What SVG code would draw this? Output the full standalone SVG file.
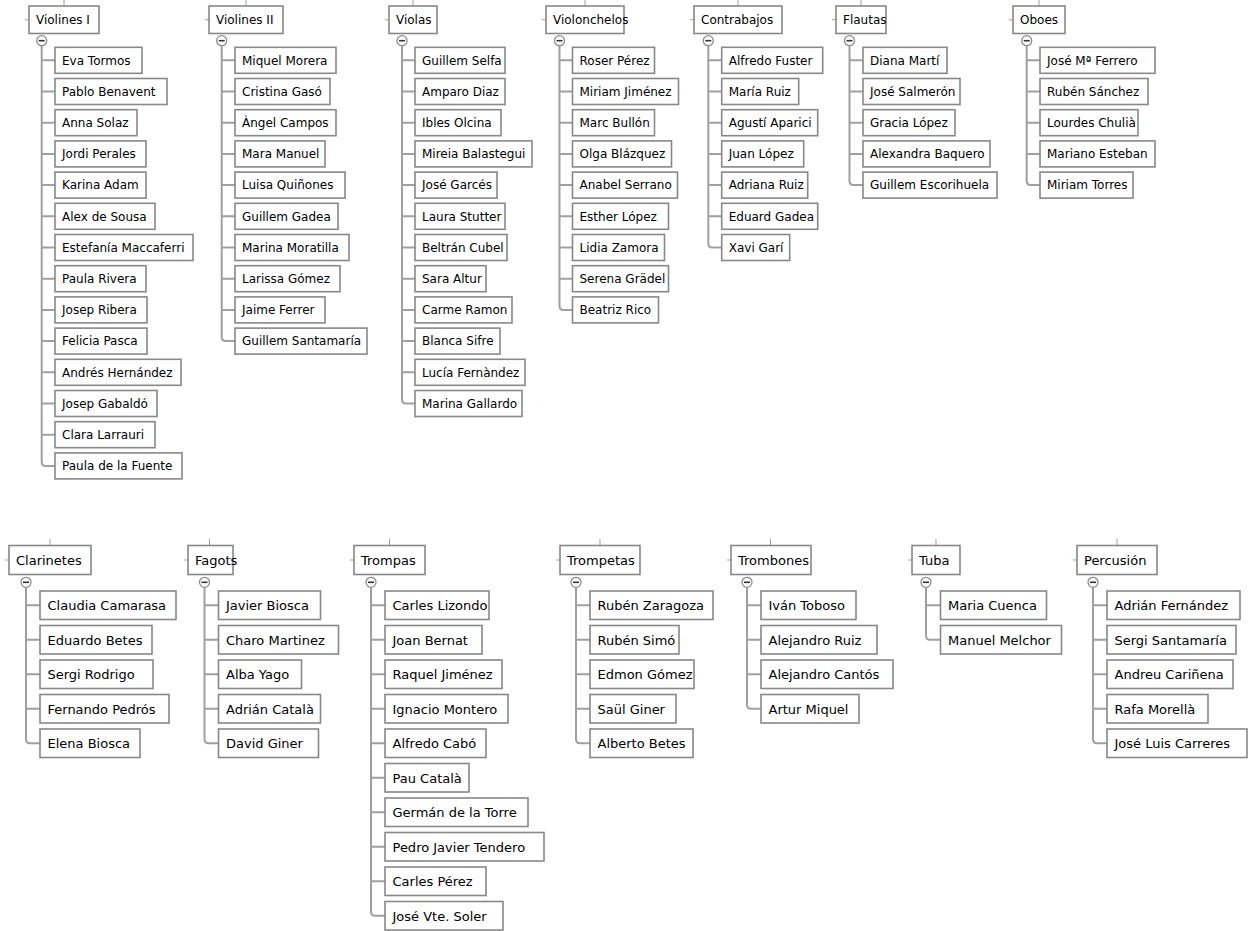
<svg xmlns="http://www.w3.org/2000/svg" width="1256" height="931" viewBox="0 0 1256 931">
<style>
.n rect{fill:#fff;stroke:#888;stroke-width:1.6}
.n text{font-family:"DejaVu Sans",Verdana,sans-serif;font-size:12px;fill:#000}
.b text{font-size:13px}
.c{fill:none;stroke:#a0a0a0;stroke-width:2}
.s{fill:none;stroke:#a0a0a0;stroke-width:1}
.tg circle{fill:#fff;stroke:#8c8c8c;stroke-width:1.3}
.tg line{stroke:#333;stroke-width:1.6}
</style>
<rect width="1256" height="931" fill="#fff"/>
<g id="connectors">
<path class="s" d="M64,0V6M25,19.75H29 M246,0V6M205,19.75H209 M413,0V6M385,19.75H389 M585,0V6M542,19.75H546 M738,0V6M690,19.75H694 M861,0V6M832,19.75H836 M1039,0V6M1009,19.75H1013 M50,539V545.5M5,560H9 M209.5,539V545.5M184,560H188 M389.5,539V545.5M350,560H354 M600,539V545.5M556,560H560 M770.5,539V545.5M727,560H731 M936,539V545.5M908,560H912 M1117,539V545.5M1073,560H1077"/>
<path class="c" d="M41.7,45.7V461.9Q41.7,465.9 45.7,465.9H55 M41.7,60.3H55M41.7,91.5H55M41.7,122.7H55M41.7,153.9H55M41.7,185.1H55M41.7,216.3H55M41.7,247.5H55M41.7,278.7H55M41.7,309.9H55M41.7,341.1H55M41.7,372.3H55M41.7,403.5H55M41.7,434.7H55"/>
<path class="c" d="M221.7,45.7V337.1Q221.7,341.1 225.7,341.1H235 M221.7,60.3H235M221.7,91.5H235M221.7,122.7H235M221.7,153.9H235M221.7,185.1H235M221.7,216.3H235M221.7,247.5H235M221.7,278.7H235M221.7,309.9H235"/>
<path class="c" d="M402,45.7V399.5Q402,403.5 406,403.5H415 M402,60.3H415M402,91.5H415M402,122.7H415M402,153.9H415M402,185.1H415M402,216.3H415M402,247.5H415M402,278.7H415M402,309.9H415M402,341.1H415M402,372.3H415"/>
<path class="c" d="M559.5,45.7V305.9Q559.5,309.9 563.5,309.9H572.5 M559.5,60.3H572.5M559.5,91.5H572.5M559.5,122.7H572.5M559.5,153.9H572.5M559.5,185.1H572.5M559.5,216.3H572.5M559.5,247.5H572.5M559.5,278.7H572.5"/>
<path class="c" d="M708.3,45.7V243.5Q708.3,247.5 712.3,247.5H721.7 M708.3,60.3H721.7M708.3,91.5H721.7M708.3,122.7H721.7M708.3,153.9H721.7M708.3,185.1H721.7M708.3,216.3H721.7"/>
<path class="c" d="M849.5,45.7V181.1Q849.5,185.1 853.5,185.1H863 M849.5,60.3H863M849.5,91.5H863M849.5,122.7H863M849.5,153.9H863"/>
<path class="c" d="M1026.7,45.7V181.1Q1026.7,185.1 1030.7,185.1H1040 M1026.7,60.3H1040M1026.7,91.5H1040M1026.7,122.7H1040M1026.7,153.9H1040"/>
<path class="c" d="M26,587.3V739.25Q26,743.25 30,743.25H40 M26,605.25H40M26,639.75H40M26,674.25H40M26,708.75H40"/>
<path class="c" d="M204.5,587.3V739.25Q204.5,743.25 208.5,743.25H218.5 M204.5,605.25H218.5M204.5,639.75H218.5M204.5,674.25H218.5M204.5,708.75H218.5"/>
<path class="c" d="M371,587.3V911.75Q371,915.75 375,915.75H385 M371,605.25H385M371,639.75H385M371,674.25H385M371,708.75H385M371,743.25H385M371,777.75H385M371,812.25H385M371,846.75H385M371,881.25H385"/>
<path class="c" d="M576,587.3V739.25Q576,743.25 580,743.25H590 M576,605.25H590M576,639.75H590M576,674.25H590M576,708.75H590"/>
<path class="c" d="M747,587.3V704.75Q747,708.75 751,708.75H761 M747,605.25H761M747,639.75H761M747,674.25H761"/>
<path class="c" d="M926,587.3V635.75Q926,639.75 930,639.75H940.5 M926,605.25H940.5"/>
<path class="c" d="M1093,587.3V739.25Q1093,743.25 1097,743.25H1107 M1093,605.25H1107M1093,639.75H1107M1093,674.25H1107M1093,708.75H1107"/>
</g>
<g id="toggles" class="tg">
<circle cx="41.7" cy="40.7" r="5"/><line x1="38.7" y1="40.7" x2="44.7" y2="40.7"/>
<circle cx="221.7" cy="40.7" r="5"/><line x1="218.7" y1="40.7" x2="224.7" y2="40.7"/>
<circle cx="402" cy="40.7" r="5"/><line x1="399" y1="40.7" x2="405" y2="40.7"/>
<circle cx="559.5" cy="40.7" r="5"/><line x1="556.5" y1="40.7" x2="562.5" y2="40.7"/>
<circle cx="708.3" cy="40.7" r="5"/><line x1="705.3" y1="40.7" x2="711.3" y2="40.7"/>
<circle cx="849.5" cy="40.7" r="5"/><line x1="846.5" y1="40.7" x2="852.5" y2="40.7"/>
<circle cx="1026.7" cy="40.7" r="5"/><line x1="1023.7" y1="40.7" x2="1029.7" y2="40.7"/>
<circle cx="26" cy="582.3" r="5"/><line x1="23" y1="582.3" x2="29" y2="582.3"/>
<circle cx="204.5" cy="582.3" r="5"/><line x1="201.5" y1="582.3" x2="207.5" y2="582.3"/>
<circle cx="371" cy="582.3" r="5"/><line x1="368" y1="582.3" x2="374" y2="582.3"/>
<circle cx="576" cy="582.3" r="5"/><line x1="573" y1="582.3" x2="579" y2="582.3"/>
<circle cx="747" cy="582.3" r="5"/><line x1="744" y1="582.3" x2="750" y2="582.3"/>
<circle cx="926" cy="582.3" r="5"/><line x1="923" y1="582.3" x2="929" y2="582.3"/>
<circle cx="1093" cy="582.3" r="5"/><line x1="1090" y1="582.3" x2="1096" y2="582.3"/>
</g>
<g id="h-violines1" class="n" transform="translate(29,6)"><rect width="70" height="27.5"/><text x="7" y="18">Violines I</text></g>
<g id="h-violines2" class="n" transform="translate(209,6)"><rect width="74" height="27.5"/><text x="7" y="18">Violines II</text></g>
<g id="h-violas" class="n" transform="translate(389,6)"><rect width="48" height="27.5"/><text x="7" y="18">Violas</text></g>
<g id="h-violonchelos" class="n" transform="translate(546,6)"><rect width="78" height="27.5"/><text x="7" y="18">Violonchelos</text></g>
<g id="h-contrabajos" class="n" transform="translate(694,6)"><rect width="88" height="27.5"/><text x="7" y="18">Contrabajos</text></g>
<g id="h-flautas" class="n" transform="translate(836,6)"><rect width="50" height="27.5"/><text x="7" y="18">Flautas</text></g>
<g id="h-oboes" class="n" transform="translate(1013,6)"><rect width="52" height="27.5"/><text x="7" y="18">Oboes</text></g>
<g id="vi1-1" class="n" transform="translate(55,47.3)"><rect width="87" height="26"/><text x="7" y="17.3">Eva Tormos</text></g>
<g id="vi1-2" class="n" transform="translate(55,78.5)"><rect width="112" height="26"/><text x="7" y="17.3">Pablo Benavent</text></g>
<g id="vi1-3" class="n" transform="translate(55,109.7)"><rect width="82" height="26"/><text x="7" y="17.3">Anna Solaz</text></g>
<g id="vi1-4" class="n" transform="translate(55,140.9)"><rect width="91" height="26"/><text x="7" y="17.3">Jordi Perales</text></g>
<g id="vi1-5" class="n" transform="translate(55,172.1)"><rect width="91" height="26"/><text x="7" y="17.3">Karina Adam</text></g>
<g id="vi1-6" class="n" transform="translate(55,203.3)"><rect width="100" height="26"/><text x="7" y="17.3">Alex de Sousa</text></g>
<g id="vi1-7" class="n" transform="translate(55,234.5)"><rect width="138" height="26"/><text x="7" y="17.3">Estefanía Maccaferri</text></g>
<g id="vi1-8" class="n" transform="translate(55,265.7)"><rect width="91" height="26"/><text x="7" y="17.3">Paula Rivera</text></g>
<g id="vi1-9" class="n" transform="translate(55,296.9)"><rect width="92" height="26"/><text x="7" y="17.3">Josep Ribera</text></g>
<g id="vi1-10" class="n" transform="translate(55,328.1)"><rect width="92" height="26"/><text x="7" y="17.3">Felicia Pasca</text></g>
<g id="vi1-11" class="n" transform="translate(55,359.3)"><rect width="126" height="26"/><text x="7" y="17.3">Andrés Hernández</text></g>
<g id="vi1-12" class="n" transform="translate(55,390.5)"><rect width="102" height="26"/><text x="7" y="17.3">Josep Gabaldó</text></g>
<g id="vi1-13" class="n" transform="translate(55,421.7)"><rect width="100" height="26"/><text x="7" y="17.3">Clara Larrauri</text></g>
<g id="vi1-14" class="n" transform="translate(55,452.9)"><rect width="127" height="26"/><text x="7" y="17.3">Paula de la Fuente</text></g>
<g id="vi2-1" class="n" transform="translate(235,47.3)"><rect width="101" height="26"/><text x="7" y="17.3">Miquel Morera</text></g>
<g id="vi2-2" class="n" transform="translate(235,78.5)"><rect width="95" height="26"/><text x="7" y="17.3">Cristina Gasó</text></g>
<g id="vi2-3" class="n" transform="translate(235,109.7)"><rect width="101" height="26"/><text x="7" y="17.3">Àngel Campos</text></g>
<g id="vi2-4" class="n" transform="translate(235,140.9)"><rect width="90" height="26"/><text x="7" y="17.3">Mara Manuel</text></g>
<g id="vi2-5" class="n" transform="translate(235,172.1)"><rect width="110" height="26"/><text x="7" y="17.3">Luisa Quiñones</text></g>
<g id="vi2-6" class="n" transform="translate(235,203.3)"><rect width="103" height="26"/><text x="7" y="17.3">Guillem Gadea</text></g>
<g id="vi2-7" class="n" transform="translate(235,234.5)"><rect width="114" height="26"/><text x="7" y="17.3">Marina Moratilla</text></g>
<g id="vi2-8" class="n" transform="translate(235,265.7)"><rect width="105" height="26"/><text x="7" y="17.3">Larissa Gómez</text></g>
<g id="vi2-9" class="n" transform="translate(235,296.9)"><rect width="90" height="26"/><text x="7" y="17.3">Jaime Ferrer</text></g>
<g id="vi2-10" class="n" transform="translate(235,328.1)"><rect width="132" height="26"/><text x="7" y="17.3">Guillem Santamaría</text></g>
<g id="vla-1" class="n" transform="translate(415,47.3)"><rect width="90" height="26"/><text x="7" y="17.3">Guillem Selfa</text></g>
<g id="vla-2" class="n" transform="translate(415,78.5)"><rect width="90" height="26"/><text x="7" y="17.3">Amparo Diaz</text></g>
<g id="vla-3" class="n" transform="translate(415,109.7)"><rect width="86" height="26"/><text x="7" y="17.3">Ibles Olcina</text></g>
<g id="vla-4" class="n" transform="translate(415,140.9)"><rect width="117" height="26"/><text x="7" y="17.3">Mireia Balastegui</text></g>
<g id="vla-5" class="n" transform="translate(415,172.1)"><rect width="82" height="26"/><text x="7" y="17.3">José Garcés</text></g>
<g id="vla-6" class="n" transform="translate(415,203.3)"><rect width="90" height="26"/><text x="7" y="17.3">Laura Stutter</text></g>
<g id="vla-7" class="n" transform="translate(415,234.5)"><rect width="92" height="26"/><text x="7" y="17.3">Beltrán Cubel</text></g>
<g id="vla-8" class="n" transform="translate(415,265.7)"><rect width="71" height="26"/><text x="7" y="17.3">Sara Altur</text></g>
<g id="vla-9" class="n" transform="translate(415,296.9)"><rect width="97" height="26"/><text x="7" y="17.3">Carme Ramon</text></g>
<g id="vla-10" class="n" transform="translate(415,328.1)"><rect width="85" height="26"/><text x="7" y="17.3">Blanca Sifre</text></g>
<g id="vla-11" class="n" transform="translate(415,359.3)"><rect width="110" height="26"/><text x="7" y="17.3">Lucía Fernàndez</text></g>
<g id="vla-12" class="n" transform="translate(415,390.5)"><rect width="107" height="26"/><text x="7" y="17.3">Marina Gallardo</text></g>
<g id="vc-1" class="n" transform="translate(572.5,47.3)"><rect width="82" height="26"/><text x="7" y="17.3">Roser Pérez</text></g>
<g id="vc-2" class="n" transform="translate(572.5,78.5)"><rect width="106" height="26"/><text x="7" y="17.3">Miriam Jiménez</text></g>
<g id="vc-3" class="n" transform="translate(572.5,109.7)"><rect width="82" height="26"/><text x="7" y="17.3">Marc Bullón</text></g>
<g id="vc-4" class="n" transform="translate(572.5,140.9)"><rect width="99" height="26"/><text x="7" y="17.3">Olga Blázquez</text></g>
<g id="vc-5" class="n" transform="translate(572.5,172.1)"><rect width="105" height="26"/><text x="7" y="17.3">Anabel Serrano</text></g>
<g id="vc-6" class="n" transform="translate(572.5,203.3)"><rect width="96" height="26"/><text x="7" y="17.3">Esther López</text></g>
<g id="vc-7" class="n" transform="translate(572.5,234.5)"><rect width="92" height="26"/><text x="7" y="17.3">Lidia Zamora</text></g>
<g id="vc-8" class="n" transform="translate(572.5,265.7)"><rect width="96" height="26"/><text x="7" y="17.3">Serena Grädel</text></g>
<g id="vc-9" class="n" transform="translate(572.5,296.9)"><rect width="86" height="26"/><text x="7" y="17.3">Beatriz Rico</text></g>
<g id="cb-1" class="n" transform="translate(721.7,47.3)"><rect width="101" height="26"/><text x="7" y="17.3">Alfredo Fuster</text></g>
<g id="cb-2" class="n" transform="translate(721.7,78.5)"><rect width="77" height="26"/><text x="7" y="17.3">María Ruiz</text></g>
<g id="cb-3" class="n" transform="translate(721.7,109.7)"><rect width="96" height="26"/><text x="7" y="17.3">Agustí Aparici</text></g>
<g id="cb-4" class="n" transform="translate(721.7,140.9)"><rect width="82" height="26"/><text x="7" y="17.3">Juan López</text></g>
<g id="cb-5" class="n" transform="translate(721.7,172.1)"><rect width="86" height="26"/><text x="7" y="17.3">Adriana Ruiz</text></g>
<g id="cb-6" class="n" transform="translate(721.7,203.3)"><rect width="96" height="26"/><text x="7" y="17.3">Eduard Gadea</text></g>
<g id="cb-7" class="n" transform="translate(721.7,234.5)"><rect width="68" height="26"/><text x="7" y="17.3">Xavi Garí</text></g>
<g id="fl-1" class="n" transform="translate(863,47.3)"><rect width="84" height="26"/><text x="7" y="17.3">Diana Martí</text></g>
<g id="fl-2" class="n" transform="translate(863,78.5)"><rect width="97" height="26"/><text x="7" y="17.3">José Salmerón</text></g>
<g id="fl-3" class="n" transform="translate(863,109.7)"><rect width="92" height="26"/><text x="7" y="17.3">Gracia López</text></g>
<g id="fl-4" class="n" transform="translate(863,140.9)"><rect width="127" height="26"/><text x="7" y="17.3">Alexandra Baquero</text></g>
<g id="fl-5" class="n" transform="translate(863,172.1)"><rect width="134" height="26"/><text x="7" y="17.3">Guillem Escorihuela</text></g>
<g id="ob-1" class="n" transform="translate(1040,47.3)"><rect width="115" height="26"/><text x="7" y="17.3">José Mª Ferrero</text></g>
<g id="ob-2" class="n" transform="translate(1040,78.5)"><rect width="108" height="26"/><text x="7" y="17.3">Rubén Sánchez</text></g>
<g id="ob-3" class="n" transform="translate(1040,109.7)"><rect width="98" height="26"/><text x="7" y="17.3">Lourdes Chulià</text></g>
<g id="ob-4" class="n" transform="translate(1040,140.9)"><rect width="115" height="26"/><text x="7" y="17.3">Mariano Esteban</text></g>
<g id="ob-5" class="n" transform="translate(1040,172.1)"><rect width="93" height="26"/><text x="7" y="17.3">Miriam Torres</text></g>
<g id="h-clarinetes" class="n b" transform="translate(9,545.5)"><rect width="82" height="29"/><text x="7" y="19.2">Clarinetes</text></g>
<g id="h-fagots" class="n b" transform="translate(188,545.5)"><rect width="45" height="29"/><text x="7" y="19.2">Fagots</text></g>
<g id="h-trompas" class="n b" transform="translate(354,545.5)"><rect width="71" height="29"/><text x="7" y="19.2">Trompas</text></g>
<g id="h-trompetas" class="n b" transform="translate(560,545.5)"><rect width="80" height="29"/><text x="7" y="19.2">Trompetas</text></g>
<g id="h-trombones" class="n b" transform="translate(731,545.5)"><rect width="80" height="29"/><text x="7" y="19.2">Trombones</text></g>
<g id="h-tuba" class="n b" transform="translate(912,545.5)"><rect width="48" height="29"/><text x="7" y="19.2">Tuba</text></g>
<g id="h-percusion" class="n b" transform="translate(1077,545.5)"><rect width="80" height="29"/><text x="7" y="19.2">Percusión</text></g>
<g id="cl-1" class="n b" transform="translate(40,591)"><rect width="136" height="28.5"/><text x="7.5" y="19">Claudia Camarasa</text></g>
<g id="cl-2" class="n b" transform="translate(40,625.5)"><rect width="112" height="28.5"/><text x="7.5" y="19">Eduardo Betes</text></g>
<g id="cl-3" class="n b" transform="translate(40,660)"><rect width="113" height="28.5"/><text x="7.5" y="19">Sergi Rodrigo</text></g>
<g id="cl-4" class="n b" transform="translate(40,694.5)"><rect width="129" height="28.5"/><text x="7.5" y="19">Fernando Pedrós</text></g>
<g id="cl-5" class="n b" transform="translate(40,729)"><rect width="100" height="28.5"/><text x="7.5" y="19">Elena Biosca</text></g>
<g id="fg-1" class="n b" transform="translate(218.5,591)"><rect width="102" height="28.5"/><text x="7.5" y="19">Javier Biosca</text></g>
<g id="fg-2" class="n b" transform="translate(218.5,625.5)"><rect width="120" height="28.5"/><text x="7.5" y="19">Charo Martinez</text></g>
<g id="fg-3" class="n b" transform="translate(218.5,660)"><rect width="83" height="28.5"/><text x="7.5" y="19">Alba Yago</text></g>
<g id="fg-4" class="n b" transform="translate(218.5,694.5)"><rect width="102" height="28.5"/><text x="7.5" y="19">Adrián Català</text></g>
<g id="fg-5" class="n b" transform="translate(218.5,729)"><rect width="100" height="28.5"/><text x="7.5" y="19">David Giner</text></g>
<g id="tp-1" class="n b" transform="translate(385,591)"><rect width="104" height="28.5"/><text x="7.5" y="19">Carles Lizondo</text></g>
<g id="tp-2" class="n b" transform="translate(385,625.5)"><rect width="97" height="28.5"/><text x="7.5" y="19">Joan Bernat</text></g>
<g id="tp-3" class="n b" transform="translate(385,660)"><rect width="117" height="28.5"/><text x="7.5" y="19">Raquel Jiménez</text></g>
<g id="tp-4" class="n b" transform="translate(385,694.5)"><rect width="123" height="28.5"/><text x="7.5" y="19">Ignacio Montero</text></g>
<g id="tp-5" class="n b" transform="translate(385,729)"><rect width="101" height="28.5"/><text x="7.5" y="19">Alfredo Cabó</text></g>
<g id="tp-6" class="n b" transform="translate(385,763.5)"><rect width="84" height="28.5"/><text x="7.5" y="19">Pau Català</text></g>
<g id="tp-7" class="n b" transform="translate(385,798)"><rect width="143" height="28.5"/><text x="7.5" y="19">Germán de la Torre</text></g>
<g id="tp-8" class="n b" transform="translate(385,832.5)"><rect width="159" height="28.5"/><text x="7.5" y="19">Pedro Javier Tendero</text></g>
<g id="tp-9" class="n b" transform="translate(385,867)"><rect width="101" height="28.5"/><text x="7.5" y="19">Carles Pérez</text></g>
<g id="tp-10" class="n b" transform="translate(385,901.5)"><rect width="118" height="28.5"/><text x="7.5" y="19">José Vte. Soler</text></g>
<g id="tt-1" class="n b" transform="translate(590,591)"><rect width="123" height="28.5"/><text x="7.5" y="19">Rubén Zaragoza</text></g>
<g id="tt-2" class="n b" transform="translate(590,625.5)"><rect width="89" height="28.5"/><text x="7.5" y="19">Rubén Simó</text></g>
<g id="tt-3" class="n b" transform="translate(590,660)"><rect width="104" height="28.5"/><text x="7.5" y="19">Edmon Gómez</text></g>
<g id="tt-4" class="n b" transform="translate(590,694.5)"><rect width="86" height="28.5"/><text x="7.5" y="19">Saül Giner</text></g>
<g id="tt-5" class="n b" transform="translate(590,729)"><rect width="103" height="28.5"/><text x="7.5" y="19">Alberto Betes</text></g>
<g id="tb-1" class="n b" transform="translate(761,591)"><rect width="95" height="28.5"/><text x="7.5" y="19">Iván Toboso</text></g>
<g id="tb-2" class="n b" transform="translate(761,625.5)"><rect width="116" height="28.5"/><text x="7.5" y="19">Alejandro Ruiz</text></g>
<g id="tb-3" class="n b" transform="translate(761,660)"><rect width="132" height="28.5"/><text x="7.5" y="19">Alejandro Cantós</text></g>
<g id="tb-4" class="n b" transform="translate(761,694.5)"><rect width="98" height="28.5"/><text x="7.5" y="19">Artur Miquel</text></g>
<g id="tu-1" class="n b" transform="translate(940.5,591)"><rect width="106" height="28.5"/><text x="7.5" y="19">Maria Cuenca</text></g>
<g id="tu-2" class="n b" transform="translate(940.5,625.5)"><rect width="121" height="28.5"/><text x="7.5" y="19">Manuel Melchor</text></g>
<g id="pc-1" class="n b" transform="translate(1107,591)"><rect width="133" height="28.5"/><text x="7.5" y="19">Adrián Fernández</text></g>
<g id="pc-2" class="n b" transform="translate(1107,625.5)"><rect width="129" height="28.5"/><text x="7.5" y="19">Sergi Santamaría</text></g>
<g id="pc-3" class="n b" transform="translate(1107,660)"><rect width="126" height="28.5"/><text x="7.5" y="19">Andreu Cariñena</text></g>
<g id="pc-4" class="n b" transform="translate(1107,694.5)"><rect width="101" height="28.5"/><text x="7.5" y="19">Rafa Morellà</text></g>
<g id="pc-5" class="n b" transform="translate(1107,729)"><rect width="140" height="28.5"/><text x="7.5" y="19">José Luis Carreres</text></g>
</svg>
